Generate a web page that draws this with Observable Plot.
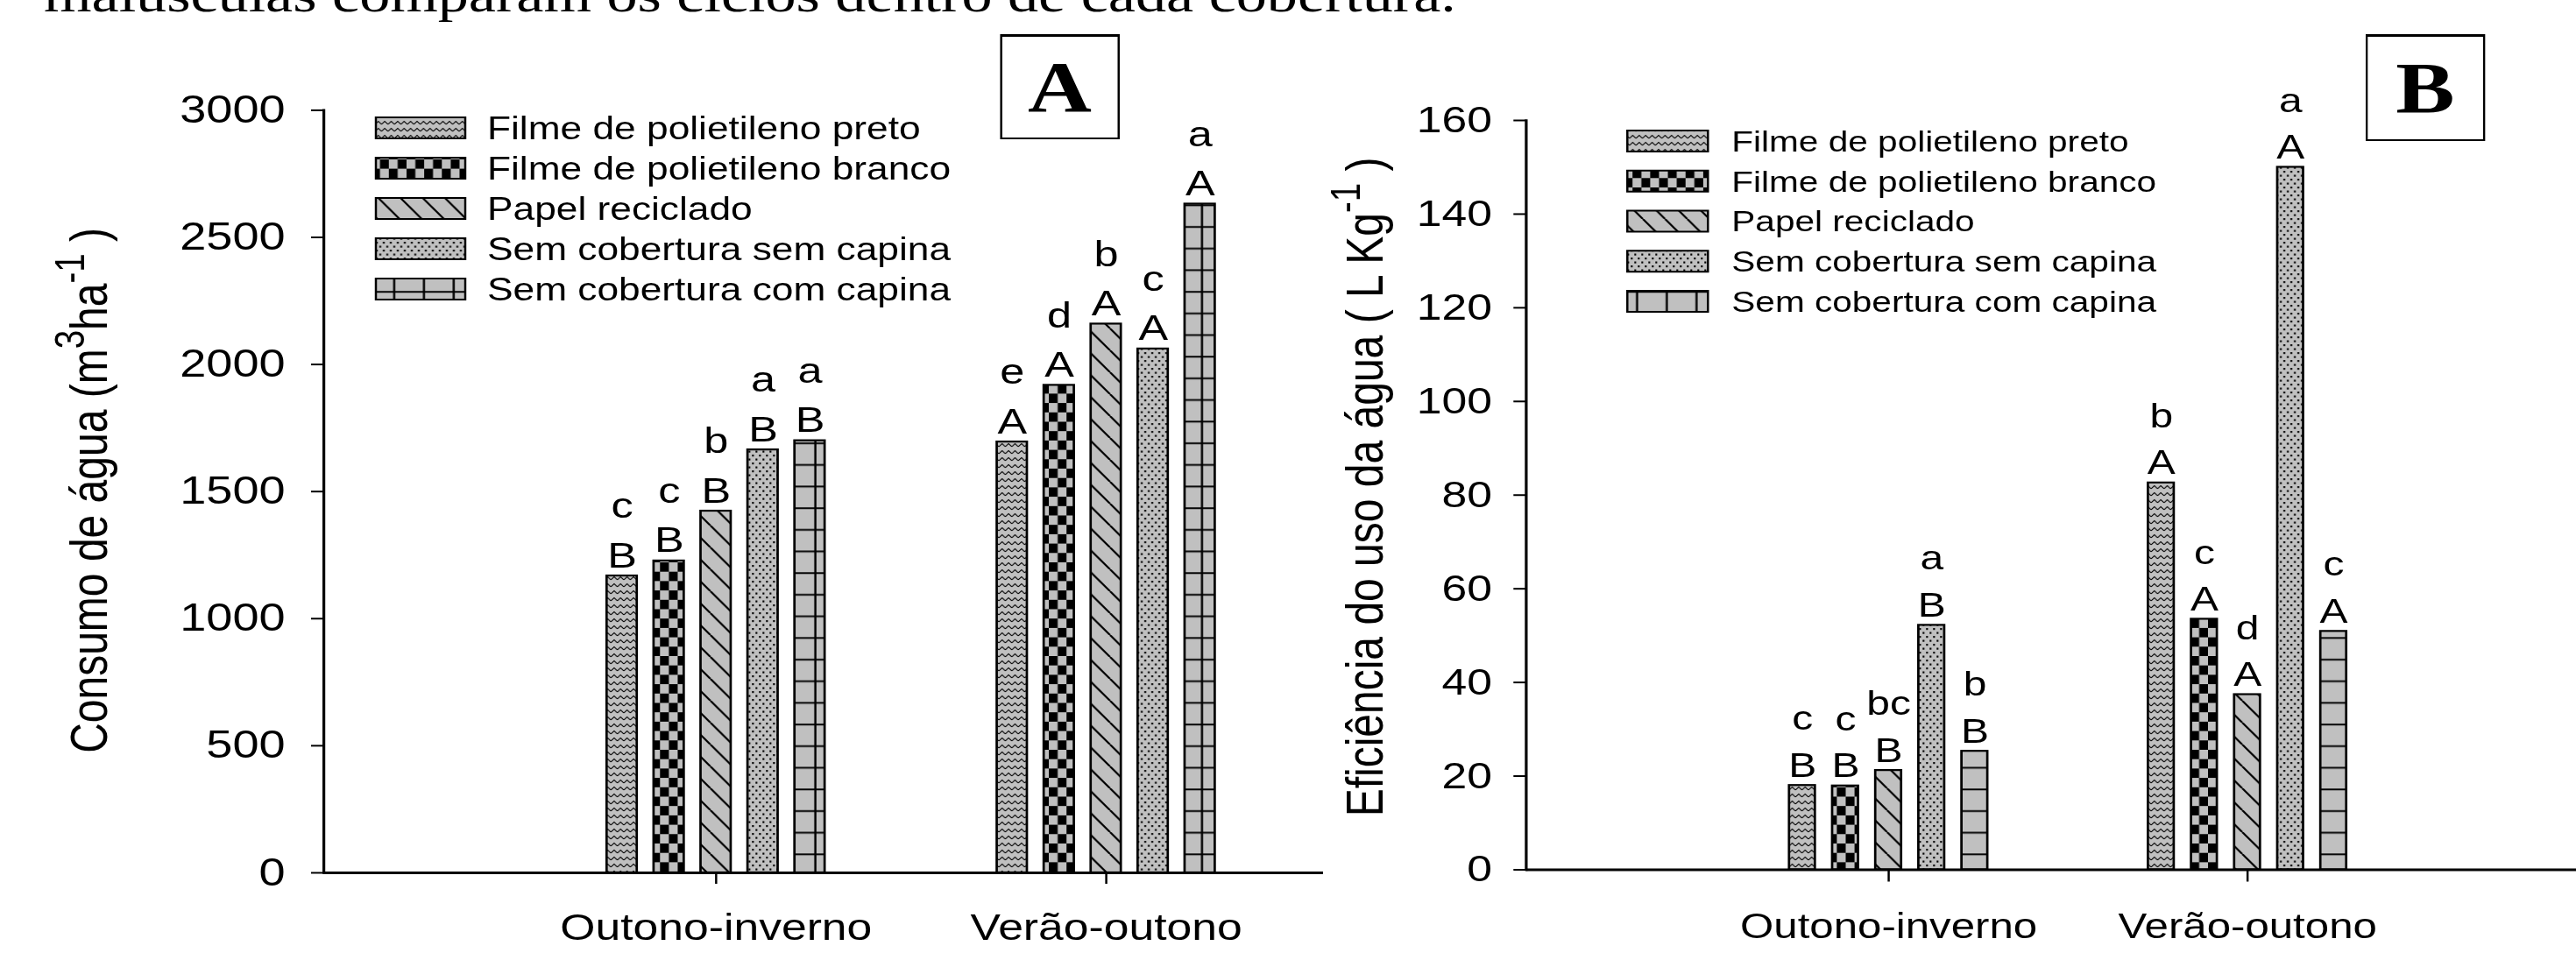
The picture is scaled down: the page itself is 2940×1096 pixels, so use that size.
<!DOCTYPE html>
<html>
<head>
<meta charset="utf-8">
<script src="https://cdn.jsdelivr.net/npm/d3@7"></script>
<script src="https://cdn.jsdelivr.net/npm/@observablehq/plot@0.6"></script>
<style>
html, body { margin: 0; padding: 0; background: #fff; overflow: hidden; }
#stage { position: relative; width: 2400px; height: 1096px; transform-origin: 0 0; font-family: "Liberation Sans", Arial, sans-serif; color: #000; }
.abs { position: absolute; top: 0; }
.topline { position: absolute; top: -35px; font-family: "Liberation Serif", serif; font-size: 57px; line-height: 57px; white-space: nowrap; color: #000; }
.panel-label { position: absolute; border: 2px solid #000; border-top-width: 3px; background: #fff; font-family: "Liberation Serif", serif; font-weight: bold; display: flex; align-items: center; justify-content: center; box-sizing: border-box; color: #000; }
</style>
</head>
<body>
<svg width="0" height="0" style="position:absolute">
  <defs>
    <pattern id="pat0" patternUnits="userSpaceOnUse" width="6" height="8">
      <rect width="6" height="8" fill="#c0c0c0"/>
      <path d="M0,6 L3,2.5 L6,6" fill="none" stroke="#000" stroke-width="1.1"/>
    </pattern>
    <pattern id="pat1" patternUnits="userSpaceOnUse" width="16.4" height="21.4">
      <rect width="16.4" height="21.4" fill="#c0c0c0"/>
      <rect width="8.2" height="10.7" fill="#000"/>
      <rect x="8.2" y="10.7" width="8.2" height="10.7" fill="#000"/>
    </pattern>
    <pattern id="pat2" patternUnits="userSpaceOnUse" width="20.6" height="25">
      <rect width="20.6" height="25" fill="#c0c0c0"/>
      <path d="M-20.6,0 L0,25 M0,0 L20.6,25 M20.6,0 L41.2,25" stroke="#000" stroke-width="2"/>
    </pattern>
    <pattern id="pat3" patternUnits="userSpaceOnUse" width="6.5" height="9">
      <rect width="6.5" height="9" fill="#c0c0c0"/>
      <rect x="1" y="1.5" width="1.7" height="2.2" fill="#000"/>
      <rect x="4.25" y="6" width="1.7" height="2.2" fill="#000"/>
    </pattern>
    <pattern id="pat4" patternUnits="userSpaceOnUse" width="27.6" height="24.7">
      <rect width="27.6" height="24.7" fill="#c0c0c0"/>
      <path d="M7,0 V24.7 M0,12 H27.6" stroke="#000" stroke-width="2"/>
    </pattern>
  </defs>
</svg>
<div id="stage">
  <div class="topline" id="topline">maiúsculas comparam os ciclos dentro de cada cobertura.</div>
  <div id="panelA" class="abs"></div>
  <div id="panelB" class="abs"></div>
  <div id="labelA" class="panel-label">A</div>
  <div id="labelB" class="panel-label">B</div>
</div>
<script>
// ---------------- data ----------------
const cycles = ["Outono-inverno", "Verão-outono"];
const coverings = [
  "Filme de polietileno preto",
  "Filme de polietileno branco",
  "Papel reciclado",
  "Sem cobertura sem capina",
  "Sem cobertura com capina"
];
// Panel A: Consumo de água (m3 ha-1)
const consumoOI = [1168, 1227, 1423, 1664, 1700];
const consumoVO = [1695, 1918, 2159, 2061, 2631];
const consumoLowerOI = ["c", "c", "b", "a", "a"];
const consumoLowerVO = ["e", "d", "b", "c", "a"];
const consumoUpperOI = ["B", "B", "B", "B", "B"];
const consumoUpperVO = ["A", "A", "A", "A", "A"];
const consumoTicks = [0, 500, 1000, 1500, 2000, 2500, 3000];
// Panel B: Eficiência do uso da água (L kg-1)
const eficOI = [18.0, 17.9, 21.2, 52.2, 25.3];
const eficVO = [82.6, 53.5, 37.4, 150.0, 50.9];
const eficLowerOI = ["c", "c", "bc", "a", "b"];
const eficLowerVO = ["b", "c", "d", "a", "c"];
const eficUpperOI = ["B", "B", "B", "B", "B"];
const eficUpperVO = ["A", "A", "A", "A", "A"];
const eficTicks = [0, 20, 40, 60, 80, 100, 120, 140, 160];

// ---------------- layout ----------------
const S = 1.23;             // horizontal stretch of the reference figure
const u = v => v / S;       // full-width pixels -> unstretched pixels
const stage = document.getElementById("stage");
stage.style.transform = `scaleX(${S})`;
stage.style.width = u(2940) + "px";
document.getElementById("topline").style.left = u(50) + "px";

function drawPanel(cfg) {
  const rows = [];
  cycles.forEach((c, ci) => coverings.forEach((cov, k) => rows.push({
    cycle: c, cover: cov, k,
    value: cfg.values[ci][k], lower: cfg.lowers[ci][k], upper: cfg.uppers[ci][k]
  })));
  const marks = [];
  coverings.forEach((cov, k) => {
    const data = rows.filter(d => d.k === k);
    const dx = (k - 2) * u(cfg.barStep);
    marks.push(Plot.barY(data, {x: "cycle", y: "value", fill: `url(#pat${k})`, stroke: "#000", strokeWidth: 2.2, dx}));
    marks.push(Plot.text(data, {
      x: "cycle", y: "value", text: d => d.lower + "\n" + d.upper, dx, dy: -cfg.labelGap,
      lineAnchor: "bottom", lineHeight: 1.37, fontSize: cfg.labelFont, fill: "#000"
    }));
  });
  const svg = Plot.plot({
    width: u(cfg.width),
    height: 1096,
    marginLeft: u(cfg.axis0),
    marginRight: u(cfg.width - cfg.axis1),
    marginTop: cfg.yTop,
    marginBottom: 1096 - cfg.yZero,
    x: {domain: cycles, range: [u(cfg.c0 - cfg.barW / 2), u(cfg.c1 + cfg.barW / 2)],
        paddingInner: 1 - cfg.barW / (cfg.c1 - cfg.c0), paddingOuter: 0},
    y: {domain: cfg.yDomain},
    style: {fontFamily: "'Liberation Sans', Arial, sans-serif", background: "transparent", color: "#000", overflow: "visible"},
    marks: [
      ...marks,
      Plot.ruleY([0], {strokeWidth: 3}),
      Plot.frame({anchor: "left", strokeWidth: 2.6}),
      Plot.axisY({ticks: cfg.ticks, tickFormat: "d", tickSize: u(14), tickPadding: u(cfg.tickGap - 14),
                  fontSize: cfg.tickFont, label: null, strokeWidth: 2}),
      Plot.axisX({tickSize: cfg.xTick, tickPadding: cfg.xPad, fontSize: cfg.catFont, label: null, strokeWidth: 2})
    ]
  });
  // legend
  const g = d3.select(svg).append("g").attr("text-anchor", "start");
  coverings.forEach((name, k) => {
    const cy = cfg.legendTop + k * cfg.legendStep;
    g.append("rect").attr("x", u(cfg.swX)).attr("y", cy - cfg.swH / 2)
      .attr("width", u(cfg.swW)).attr("height", cfg.swH)
      .attr("fill", `url(#pat${k})`).attr("stroke", "#000").attr("stroke-width", 2);
    g.append("text").attr("x", u(cfg.txtX)).attr("y", cy).attr("dy", "0.36em")
      .attr("text-anchor", "start")
      .attr("font-size", cfg.legendFont).attr("fill", "#000").text(name);
  });
  // y title with superscripts
  const t = d3.select(svg).append("text")
    .attr("transform", `translate(${u(cfg.titleX)},${cfg.titleY}) rotate(-90)`)
    .attr("text-anchor", "middle").attr("font-size", cfg.titleFont).attr("fill", "#000");
  cfg.title.forEach(([s, sup]) => {
    const ts = t.append("tspan").text(s);
    if (sup) ts.attr("baseline-shift", "super").attr("font-size", "80%");
  });
  return svg;
}

const svgA = drawPanel({
  values: [consumoOI, consumoVO], lowers: [consumoLowerOI, consumoLowerVO], uppers: [consumoUpperOI, consumoUpperVO],
  width: 1520, axis0: 369, axis1: 1510, yTop: 125.4, yZero: 996, yDomain: [0, 3000], ticks: consumoTicks,
  c0: 816, c1: 1262, barW: 34, barStep: 53.6,
  tickGap: 44, tickFont: 44, catFont: 42, xTick: 13, xPad: 34, labelFont: 41, labelGap: 10,
  legendTop: 146, legendStep: 46, swX: 429, swW: 102, swH: 24, txtX: 556, legendFont: 36,
  titleX: 122, titleY: 560, titleFont: 48,
  title: [["Consumo de água (m"], ["3", true], ["ha"], ["-1", true], [" )"]]
});
document.getElementById("panelA").appendChild(svgA);
document.getElementById("panelA").style.left = "0px";

const offB = 1520;
const svgB = drawPanel({
  values: [eficOI, eficVO], lowers: [eficLowerOI, eficLowerVO], uppers: [eficUpperOI, eficUpperVO],
  width: 2940 - offB, axis0: 1741 - offB, axis1: 2940 - offB, yTop: 137, yZero: 992.5, yDomain: [0, 160], ticks: eficTicks,
  c0: 2154.5 - offB, c1: 2564.5 - offB, barW: 30, barStep: 49.2,
  tickGap: 39, tickFont: 42, catFont: 40, xTick: 14, xPad: 36, labelFont: 39, labelGap: 10,
  legendTop: 161, legendStep: 45.75, swX: 1857 - offB, swW: 92, swH: 24, txtX: 1976 - offB, legendFont: 33,
  titleX: 1578 - offB, titleY: 556, titleFont: 48,
  title: [["Eficiência do uso da água ( L Kg"], ["-1", true], [" )"]]
});
const pB = document.getElementById("panelB");
pB.appendChild(svgB);
pB.style.left = u(offB) + "px";

// panel letters in boxes
function placeBox(id, x0, x1, y0, y1, fs) {
  const el = document.getElementById(id);
  el.style.left = u(x0) + "px";
  el.style.width = u(x1 - x0) + "px";
  el.style.top = y0 + "px";
  el.style.height = (y1 - y0) + "px";
  el.style.fontSize = fs + "px";
}
placeBox("labelA", 1141, 1278, 39, 159, 82);
placeBox("labelB", 2700, 2836, 39, 161, 82);
</script>
</body>
</html>
